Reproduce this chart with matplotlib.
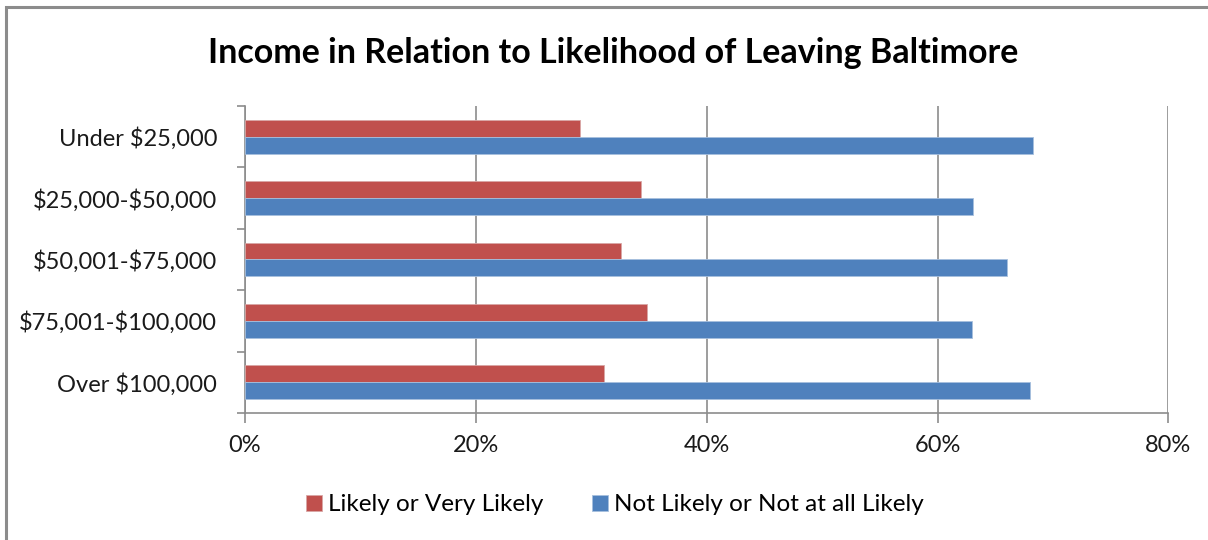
import numpy as np
import matplotlib.pyplot as plt
from matplotlib.patches import Rectangle
from matplotlib.ticker import FuncFormatter

plt.rcParams['font.family'] = ['Lato', 'DejaVu Sans']
plt.rcParams['text.parse_math'] = False

categories = ["Under $25,000", "$25,000-$50,000", "$50,001-$75,000",
              "$75,001-$100,000", "Over $100,000"]
likely = [29.0, 34.3, 32.6, 34.8, 31.1]
not_likely = [68.3, 63.1, 66.0, 63.0, 68.0]
series_names = ["Likely or Very Likely", "Not Likely or Not at all Likely"]
red = "#C0504D"
blue = "#4F81BD"
grey = "#8C8C8C"

fig = plt.figure(figsize=(12.08, 5.40), dpi=100)
ax = fig.add_axes([0.2028, 0.2352, 0.7645, 0.5685])

# outer chart frame (cut off on right and bottom like the screenshot)
fig.patches.append(Rectangle((6 / 1208, -0.1), 1.2, 1 - 7 / 540 + 0.1,
                             transform=fig.transFigure, fill=False,
                             edgecolor="#8C8C8C", linewidth=2.2, zorder=0))

y = np.arange(len(categories))
h = 0.275
ax.barh(y - h / 2, likely, height=h, color=red, edgecolor="#D9A6A5",
        linewidth=0.6, label=series_names[0], zorder=3)
ax.barh(y + h / 2, not_likely, height=h, color=blue, edgecolor="#A7C0DE",
        linewidth=0.6, label=series_names[1], zorder=3)

ax.set_ylim(len(categories) - 0.5, -0.5)
ax.set_xlim(0, 80)
ax.set_xticks([0, 20, 40, 60, 80])
ax.xaxis.set_major_formatter(FuncFormatter(lambda v, p: "%d%%" % v))
ax.grid(axis="x", color=grey, linewidth=1.2, zorder=0)

ax.set_yticks(y)
ax.set_yticklabels(categories)
ax.set_yticks(np.arange(-0.5, len(categories)), minor=True)
ax.tick_params(axis="y", which="major", length=0, pad=20, labelsize=17,
               labelcolor="#1a1a1a")
ax.tick_params(axis="y", which="minor", length=6, color=grey, width=1.2)
ax.tick_params(axis="x", length=7, color=grey, width=1.2, labelsize=17,
               pad=9, labelcolor="#1a1a1a")

for s in ["top", "right"]:
    ax.spines[s].set_visible(False)
for s in ["left", "bottom"]:
    ax.spines[s].set_color(grey)
    ax.spines[s].set_linewidth(1.2)

fig.text(0.508, 0.902, "Income in Relation to Likelihood of Leaving Baltimore",
         ha="center", va="center", fontsize=24.5, fontweight="bold",
         color="black")

fig.legend(loc="center", bbox_to_anchor=(0.509, 0.065), ncol=2, frameon=False,
           fontsize=17.5, handlelength=0.65, handleheight=0.65,
           columnspacing=2.0, handletextpad=0.25)

fig.savefig("out.png", dpi=100)
